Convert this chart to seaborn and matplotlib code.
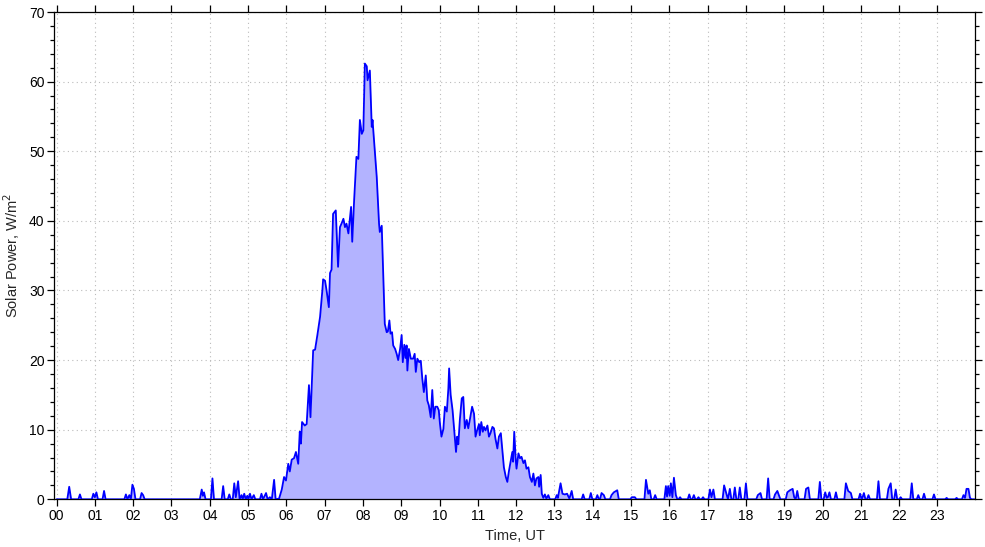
import matplotlib
matplotlib.use("Agg")
import matplotlib.pyplot as plt
import seaborn as sns
import pandas as pd
from matplotlib.ticker import MultipleLocator, FixedLocator

# ---- data (hours UT, solar power W/m^2) ----
hours = [
    0.00, 0.28, 0.33, 0.38, 0.57, 0.61, 0.65, 0.92, 0.96, 1.00, 1.04, 1.08,
    1.20, 1.24, 1.28, 1.77, 1.81, 1.85, 1.90, 1.94, 1.98, 2.02, 2.06,
    2.18, 2.22, 2.26, 2.30, 3.74, 3.79, 3.82, 3.85, 3.89, 4.03, 4.07, 4.11,
    4.31, 4.35, 4.39, 4.47, 4.51, 4.55, 4.60, 4.64, 4.68, 4.74, 4.78, 4.83,
    4.86, 4.90, 4.94, 4.98, 5.01, 5.05, 5.09, 5.15, 5.19, 5.31, 5.35, 5.39,
    5.47, 5.51, 5.57, 5.62, 5.68, 5.72, 5.81, 5.88, 5.94, 5.99, 6.05, 6.09,
    6.14, 6.20, 6.25, 6.31, 6.35, 6.38, 6.41, 6.48, 6.53, 6.59, 6.63, 6.70,
    6.75, 6.81, 6.88, 6.94, 6.96, 7.01, 7.05, 7.11, 7.14, 7.18, 7.22, 7.29,
    7.35, 7.40, 7.44, 7.49, 7.53, 7.57, 7.62, 7.69, 7.72, 7.77, 7.83, 7.88,
    7.92, 7.97, 8.01, 8.05, 8.10, 8.12, 8.18, 8.23, 8.25, 8.31, 8.36, 8.38,
    8.42, 8.44, 8.49, 8.53, 8.57, 8.62, 8.65, 8.69, 8.72, 8.76, 8.79, 8.84,
    8.88, 8.92, 8.97, 9.01, 9.04, 9.08, 9.11, 9.14, 9.16, 9.20, 9.25, 9.31,
    9.35, 9.38, 9.42, 9.47, 9.51, 9.55, 9.59, 9.64, 9.68, 9.72, 9.77, 9.81,
    9.85, 9.89, 9.94, 9.98, 10.01, 10.05, 10.10, 10.14, 10.19, 10.23, 10.25,
    10.29, 10.34, 10.40, 10.43, 10.46, 10.49, 10.53, 10.58, 10.62, 10.66,
    10.71, 10.75, 10.79, 10.85, 10.90, 10.94, 10.98, 11.03, 11.05, 11.09,
    11.13, 11.16, 11.20, 11.25, 11.29, 11.33, 11.38, 11.42, 11.46, 11.51,
    11.55, 11.60, 11.64, 11.68, 11.73, 11.77, 11.81, 11.86, 11.90, 11.92,
    11.95, 11.99, 12.01, 12.06, 12.10, 12.14, 12.19, 12.23, 12.27, 12.32,
    12.36, 12.41, 12.45, 12.49, 12.53, 12.58, 12.60, 12.64, 12.67, 12.71,
    12.75, 12.79, 12.84, 12.88, 13.02, 13.06, 13.09, 13.16, 13.21, 13.27,
    13.33, 13.39, 13.45, 13.49, 13.71, 13.75, 13.79, 13.91, 13.95, 13.99,
    14.08, 14.12, 14.16, 14.19, 14.23, 14.29, 14.33, 14.45, 14.49, 14.55,
    14.64, 14.68, 14.98, 15.02, 15.10, 15.14, 15.35, 15.39, 15.45, 15.49,
    15.53, 15.59, 15.63, 15.67, 15.87, 15.91, 15.94, 15.97, 16.01, 16.04,
    16.08, 16.12, 16.17, 16.21, 16.24, 16.28, 16.32, 16.48, 16.52, 16.56,
    16.60, 16.64, 16.68, 16.72, 16.76, 16.80, 16.84, 16.88, 16.92, 17.02,
    17.06, 17.10, 17.15, 17.19, 17.39, 17.43, 17.48, 17.53, 17.58, 17.62,
    17.67, 17.71, 17.75, 17.80, 17.84, 17.88, 17.96, 18.00, 18.04, 18.27,
    18.31, 18.38, 18.42, 18.54, 18.58, 18.62, 18.72, 18.76, 18.82, 18.86,
    18.90, 19.04, 19.08, 19.15, 19.22, 19.26, 19.30, 19.34, 19.38, 19.53,
    19.57, 19.63, 19.67, 19.89, 19.93, 19.97, 20.03, 20.07, 20.11, 20.14,
    20.18, 20.22, 20.31, 20.35, 20.39, 20.57, 20.61, 20.67, 20.74, 20.78,
    20.94, 20.98, 21.02, 21.04, 21.08, 21.12, 21.16, 21.20, 21.24, 21.42,
    21.46, 21.50, 21.68, 21.72, 21.78, 21.82, 21.87, 21.91, 21.95, 22.00,
    22.04, 22.08, 22.29, 22.33, 22.37, 22.46, 22.50, 22.54, 22.61, 22.65,
    22.69, 22.87, 22.91, 22.95, 23.20, 23.24, 23.28, 23.46, 23.50, 23.54,
    23.64, 23.68, 23.72, 23.76, 23.81, 23.85, 23.89, 23.97,
]
power = [
    0.0, 0.0, 1.8, 0.0, 0.0, 0.7, 0.0, 0.0, 0.8, 0.3, 1.0, 0.0,
    0.0, 1.2, 0.0, 0.0, 0.7, 0.0, 0.6, 0.0, 2.1, 1.5, 0.0,
    0.0, 0.9, 0.6, 0.0, 0.0, 1.4, 0.5, 1.0, 0.0, 0.0, 3.0, 0.0,
    0.0, 1.9, 0.0, 0.0, 0.7, 0.0, 0.0, 2.3, 0.3, 2.6, 0.0, 0.6,
    0.0, 0.8, 0.0, 0.5, 0.0, 0.8, 0.0, 0.6, 0.0, 0.0, 0.8, 0.0,
    0.9, 0.0, 0.3, 0.0, 2.8, 0.0, 0.1, 1.4, 3.2, 2.7, 5.1, 4.0,
    5.7, 5.9, 6.8, 5.1, 9.7, 8.0, 11.1, 10.6, 10.8, 16.4, 11.8, 21.4,
    21.5, 23.6, 26.2, 30.0, 31.6, 31.4, 30.0, 27.6, 32.5, 33.0, 41.0, 41.5,
    33.4, 39.1, 39.6, 40.3, 39.1, 39.6, 38.2, 42.0, 37.0, 43.0, 49.2, 48.9,
    54.5, 52.5, 53.0, 62.6, 62.2, 60.2, 61.6, 53.5, 54.5, 50.1, 46.3, 44.0,
    39.6, 38.4, 39.3, 32.0, 25.2, 24.0, 24.1, 25.7, 23.8, 24.0, 22.1, 21.6,
    20.9, 20.0, 21.6, 23.6, 19.7, 22.2, 20.3, 22.1, 18.5, 21.6, 20.2, 20.2,
    20.9, 18.3, 20.2, 19.7, 19.9, 17.3, 15.4, 17.8, 14.2, 13.5, 11.8, 15.7,
    11.6, 13.3, 13.3, 12.8, 10.9, 9.0, 10.1, 13.3, 12.6, 15.9, 18.8,
    15.0, 12.8, 8.7, 6.8, 9.0, 7.9, 11.4, 14.5, 14.7, 10.2,
    11.4, 10.2, 11.4, 13.3, 12.3, 9.0, 9.9, 10.8, 9.2, 11.1,
    9.7, 10.4, 9.9, 10.6, 9.0, 9.5, 10.4, 10.2, 8.7, 7.3,
    9.0, 9.5, 7.1, 4.6, 3.2, 2.5, 4.0, 5.6, 6.8, 5.4,
    9.7, 5.6, 4.4, 6.6, 5.9, 6.1, 5.2, 5.6, 4.4, 4.6,
    3.2, 2.5, 3.7, 2.0, 3.0, 3.2, 1.8, 3.5, 0.8, 0.2,
    0.7, 0.1, 0.6, 0.0, 0.0, 0.6, 0.2, 2.3, 0.8, 0.7,
    0.8, 0.1, 1.2, 0.0, 0.0, 0.7, 0.0, 0.0, 0.9, 0.0,
    0.0, 0.6, 0.0, 0.0, 0.9, 0.6, 0.0, 0.0, 0.6, 1.0,
    1.3, 0.0, 0.0, 0.3, 0.3, 0.0, 0.0, 2.8, 0.8, 1.3,
    0.0, 0.0, 0.6, 0.0, 0.0, 1.9, 0.4, 1.9, 0.5, 2.3,
    0.3, 3.1, 0.6, 0.0, 0.0, 0.3, 0.0, 0.0, 0.7, 0.0,
    0.0, 0.6, 0.0, 0.0, 0.3, 0.0, 0.0, 0.3, 0.0, 0.0,
    1.4, 0.3, 1.4, 0.0, 0.0, 2.0, 1.0, 0.0, 1.5, 0.0,
    0.0, 1.7, 0.0, 0.0, 1.7, 0.0, 0.0, 2.3, 0.0, 0.0,
    0.6, 0.9, 0.0, 0.0, 3.0, 0.0, 0.0, 0.7, 1.2, 0.6,
    0.0, 0.0, 1.0, 1.3, 1.5, 0.3, 0.0, 1.2, 0.0, 0.0,
    1.5, 1.7, 0.0, 0.0, 2.5, 0.0, 0.0, 1.0, 0.2, 0.3,
    1.0, 0.0, 0.0, 1.0, 0.0, 0.0, 2.3, 1.2, 0.9, 0.0,
    0.0, 0.8, 0.0, 0.2, 0.9, 0.0, 0.0, 0.6, 0.0, 0.0,
    2.6, 0.0, 0.0, 1.5, 2.3, 0.0, 0.0, 1.4, 0.0, 0.0,
    0.3, 0.0, 0.0, 2.3, 0.0, 0.0, 0.6, 0.0, 0.0, 0.8,
    0.0, 0.0, 0.7, 0.0, 0.0, 0.2, 0.0, 0.0, 0.2, 0.0,
    0.0, 0.6, 0.2, 1.5, 1.5, 0.2, 0.0, 0.0,
]
tick_hours = list(range(24))
tick_labels = [f"{h:02d}" for h in tick_hours]

df = pd.DataFrame({"Time": hours, "Power": power})

sns.set_style("white")
plt.rcParams["font.family"] = ["Liberation Sans", "DejaVu Sans"]

fig = plt.figure(figsize=(9.85, 5.47), dpi=100)
ax = fig.add_axes([0.0551, 0.0872, 0.9347, 0.8908])

ax.fill_between(df["Time"], 0, df["Power"], color="#b3b3ff", linewidth=0, zorder=2)
sns.lineplot(data=df, x="Time", y="Power", ax=ax, color="#0000ff",
             linewidth=1.3, zorder=3, estimator=None, sort=False)

ax.set_xlim(-0.06, 23.98)
ax.set_ylim(0, 70)
ax.xaxis.set_major_locator(FixedLocator(tick_hours))
ax.set_xticks(tick_hours)
ax.set_xticklabels(tick_labels)
ax.yaxis.set_major_locator(MultipleLocator(10))
ax.yaxis.set_minor_locator(MultipleLocator(2))

ax.grid(True, which="major", linestyle=(0, (1, 3)), color="#bbbbbb", linewidth=0.8, zorder=1)
ax.set_axisbelow(True)

for s in ax.spines.values():
    s.set_visible(True)
    s.set_color("black")
    s.set_linewidth(0.9)

ax.tick_params(which="both", direction="out", top=True, right=True,
               bottom=True, left=True, labeltop=False, labelright=False,
               colors="black", labelsize=10, width=0.9)
ax.tick_params(which="major", length=5, pad=2)
ax.tick_params(which="minor", length=3)

ax.set_xlabel("Time, UT", fontsize=10.5, labelpad=4)
ax.set_ylabel("Solar Power, W/m$^2$", fontsize=10.5, labelpad=5)

fig.savefig("out.png", dpi=100)
